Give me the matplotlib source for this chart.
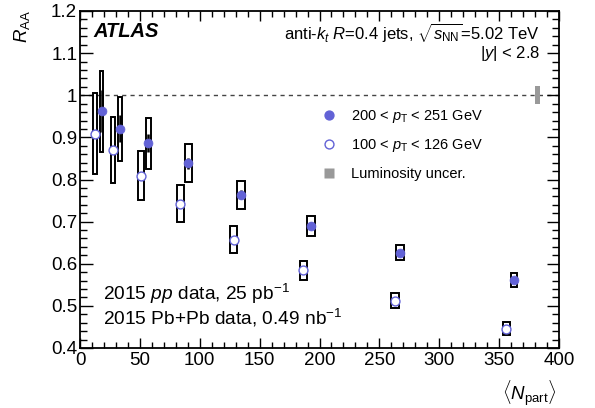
import matplotlib
matplotlib.use("Agg")
import matplotlib.pyplot as plt
from matplotlib.patches import Rectangle
from matplotlib.lines import Line2D
from matplotlib.ticker import MultipleLocator, FuncFormatter

plt.rcParams['font.family'] = ['Liberation Sans', 'DejaVu Sans']
plt.rcParams['mathtext.fontset'] = 'custom'
plt.rcParams['mathtext.rm'] = 'Liberation Sans'
plt.rcParams['mathtext.it'] = 'Liberation Sans:italic'
plt.rcParams['mathtext.bf'] = 'Liberation Sans:bold'

# ---- data ----
npart_hi = [18.1, 33.4, 57.0, 90.5, 134.4, 192.9, 267.2, 362.4]
raa_hi = [0.962, 0.920, 0.886, 0.839, 0.764, 0.690, 0.626, 0.562]
stat_hi = [0.050, 0.032, 0.021, 0.013, 0.010, 0.008, 0.007, 0.007]
syst_hi = [0.096, 0.077, 0.060, 0.045, 0.033, 0.024, 0.018, 0.017]

npart_lo = [12.5, 27.6, 51.0, 83.8, 128.3, 186.5, 263.3, 356.0]
raa_lo = [0.909, 0.870, 0.809, 0.742, 0.657, 0.584, 0.512, 0.446]
stat_lo = [0.006, 0.005, 0.004, 0.004, 0.003, 0.003, 0.003, 0.003]
syst_lo = [0.097, 0.078, 0.058, 0.044, 0.032, 0.022, 0.018, 0.015]

box_width = [2.8, 3.9, 4.5, 5.6, 6.0, 6.3, 6.5, 5.6]

lumi_npart = 382.0
lumi_unc = 0.021
lumi_width = 4.4

label_hi = r'200 < $p_{\mathrm{T}}$ < 251 GeV'
label_lo = r'100 < $p_{\mathrm{T}}$ < 126 GeV'
label_lumi = 'Luminosity uncer.'

blue = '#6262d6'

fig = plt.figure(figsize=(5.95, 4.08), dpi=100)
ax = fig.add_axes([80/595, 1-348/408, 479/595, 337/408])

ax.set_xlim(0, 400)
ax.set_ylim(0.4, 1.2)

ax.axhline(1.0, color='#444444', lw=1.0, ls=(0, (3, 3)), zorder=1)

# systematic boxes
for x, y, s, w in zip(npart_lo, raa_lo, syst_lo, box_width):
    ax.add_patch(Rectangle((x - w/2, y - s), w, 2*s, fill=False,
                           edgecolor='black', lw=1.4, zorder=2))
for x, y, s, w in zip(npart_hi, raa_hi, syst_hi, box_width):
    ax.add_patch(Rectangle((x - w/2, y - s), w, 2*s, fill=False,
                           edgecolor='black', lw=1.4, zorder=2))

# luminosity
ax.add_patch(Rectangle((lumi_npart - lumi_width/2, 1 - lumi_unc), lumi_width,
                       2*lumi_unc, facecolor='#999999', edgecolor='none', zorder=3))

# stat errors + points
ax.errorbar(npart_lo, raa_lo, yerr=stat_lo, fmt='none', ecolor='black',
            elinewidth=1.8, capsize=0, zorder=3)
ax.errorbar(npart_hi, raa_hi, yerr=stat_hi, fmt='none', ecolor='black',
            elinewidth=1.8, capsize=0, zorder=3)
ax.plot(npart_lo, raa_lo, ls='none', marker='o', ms=6.4, mfc='white',
        mec=blue, mew=1.0, zorder=4)
ax.plot(npart_hi, raa_hi, ls='none', marker='o', ms=6.4, mfc=blue,
        mec=blue, mew=0.5, zorder=5)

# legend
handles = [
    Line2D([], [], ls='none', marker='o', ms=6.4, mfc=blue, mec=blue),
    Line2D([], [], ls='none', marker='o', ms=6.4, mfc='white', mec=blue, mew=1.0),
    Line2D([], [], ls='none', marker='s', ms=7.5, mfc='#999999', mec='none'),
]
ax.legend(handles, [label_hi, label_lo, label_lumi], loc='upper left',
          bbox_to_anchor=(0.486, 0.73), frameon=False, fontsize=10.5,
          labelspacing=0.85, handletextpad=0.8, handlelength=1.4,
          borderaxespad=0)

# ticks
ax.xaxis.set_major_locator(MultipleLocator(50))
ax.xaxis.set_minor_locator(MultipleLocator(10))
ax.yaxis.set_major_locator(MultipleLocator(0.1))
ax.yaxis.set_minor_locator(MultipleLocator(0.02))
ax.yaxis.set_major_formatter(FuncFormatter(lambda v, p: '%g' % round(v, 2)))
ax.tick_params(axis='both', which='both', direction='in', top=True, right=True,
               labelsize=13.5, width=1.0)
ax.tick_params(axis='y', which='major', length=9, pad=2)
ax.tick_params(axis='y', which='minor', length=5)
ax.tick_params(axis='x', which='major', length=7, pad=3)
ax.tick_params(axis='x', which='minor', length=4)
for sp in ax.spines.values():
    sp.set_linewidth(1.3)

ax.set_ylabel(r'$R_{\mathrm{AA}}$', fontsize=13.5)
ax.yaxis.set_label_coords(-0.1, 0.955)
ax.set_xlabel(r'$\langle N_{\mathrm{part}}\rangle$', fontsize=13.5)
ax.xaxis.set_label_coords(0.937, -0.09)

# texts
ax.text(0.027, 0.94, 'ATLAS', transform=ax.transAxes, fontsize=14.5,
        fontweight='bold', fontstyle='italic', va='center', ha='left')
ax.text(0.96, 0.935, r'anti-$k_{t}$ $R$=0.4 jets, $\sqrt{s_{\mathrm{NN}}}$=5.02 TeV',
        transform=ax.transAxes, fontsize=12, va='center', ha='right')
ax.text(0.96, 0.875, r'|$y$| < 2.8', transform=ax.transAxes, fontsize=12,
        va='center', ha='right')
ax.text(0.048, 0.16, r'2015 $pp$ data, 25 pb$^{-1}$', transform=ax.transAxes,
        fontsize=13.8, va='center', ha='left')
ax.text(0.048, 0.09, r'2015 Pb+Pb data, 0.49 nb$^{-1}$', transform=ax.transAxes,
        fontsize=13.8, va='center', ha='left')

fig.savefig('out.png', dpi=100)
